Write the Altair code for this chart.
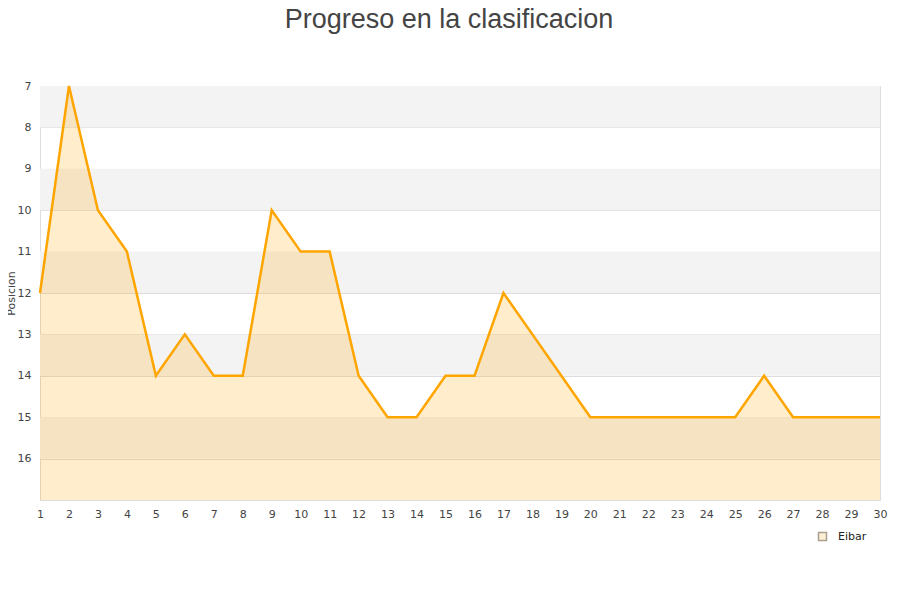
import altair as alt
import pandas as pd

jornadas = list(range(1, 31))
posiciones = [12, 7, 10, 11, 14, 13, 14, 14, 10, 11, 11, 14, 15, 15, 14, 14, 12, 13, 14, 15,
              15, 15, 15, 15, 15, 14, 15, 15, 15, 15]
equipo = "Eibar"
band_starts = [7, 9, 11, 13, 15]
y_ticks = list(range(7, 17))

df = pd.DataFrame({"jornada": jornadas, "pos": posiciones, "equipo": [equipo] * len(jornadas)})
bands = pd.DataFrame({"y": band_starts, "y2": [b + 1 for b in band_starts]})

xs = alt.Scale(domain=[1, 30], nice=False, zero=False)
ys = alt.Scale(domain=[7, 17], reverse=True, nice=False, zero=False)

axis_x = alt.Axis(values=jornadas, tickCount=30, title=None, grid=False, labelColor="#444",
                  labelFontSize=11, labelFont="DejaVu Sans", domain=False, ticks=False,
                  labelPadding=8, labelFlush=False, labelOverlap=False, labelBound=False)
axis_y = alt.Axis(values=y_ticks, title="Posicion", titleFontWeight="normal", titleFontSize=11,
                  titleColor="#444", titleFont="DejaVu Sans", titleX=-24,
                  labelColor="#444", labelFontSize=11, labelFont="DejaVu Sans",
                  labelOverlap=False,
                  gridColor="#dddddd", domain=False, ticks=False, labelPadding=9)

band_layer = alt.Chart(bands).mark_rect(color="#f3f3f3").encode(
    y=alt.Y("y:Q", scale=ys, axis=axis_y),
    y2="y2:Q",
    x=alt.value(0),
    x2=alt.value(840),
)

area = alt.Chart(df).mark_area(color="orange", fillOpacity=0.2).encode(
    x=alt.X("jornada:Q", scale=xs, axis=axis_x),
    y=alt.Y("pos:Q", scale=ys, axis=axis_y),
    y2=alt.datum(17),
)

line = alt.Chart(df).mark_line(color="orange", strokeWidth=2.5).encode(
    x=alt.X("jornada:Q", scale=xs, axis=axis_x),
    y=alt.Y("pos:Q", scale=ys, axis=axis_y),
)

legend_layer = alt.Chart(df).mark_square(filled=True, stroke="#8a7a60", strokeWidth=1).encode(
    x=alt.X("jornada:Q", scale=xs, axis=axis_x),
    y=alt.Y("pos:Q", scale=ys, axis=axis_y),
    fill=alt.Fill("equipo:N", scale=alt.Scale(domain=[equipo], range=["#fde9c4"]),
                  legend=alt.Legend(title=None, orient="none", legendX=777, legendY=445,
                                    symbolType="square", symbolSize=64,
                                    labelOffset=10, labelFontSize=11, labelFont="DejaVu Sans",
                                    labelColor="#222")),
).transform_filter("false")

chart = alt.layer(band_layer, area, line, legend_layer).properties(
    width=840,
    height=414,
    title=alt.TitleParams("Progreso en la clasificacion", font="Liberation Sans", fontSize=27,
                          fontWeight="normal", color="#444", anchor="middle", dx=-11,
                          offset=46),
    autosize=alt.AutoSizeParams(type="none"),
    padding={"left": 32, "top": 78, "right": 10, "bottom": 80},
).configure_view(stroke="#dddddd").configure_axis(labelOverlap=False)

chart.save("out.html", embed_options={"renderer": "svg", "actions": False})
